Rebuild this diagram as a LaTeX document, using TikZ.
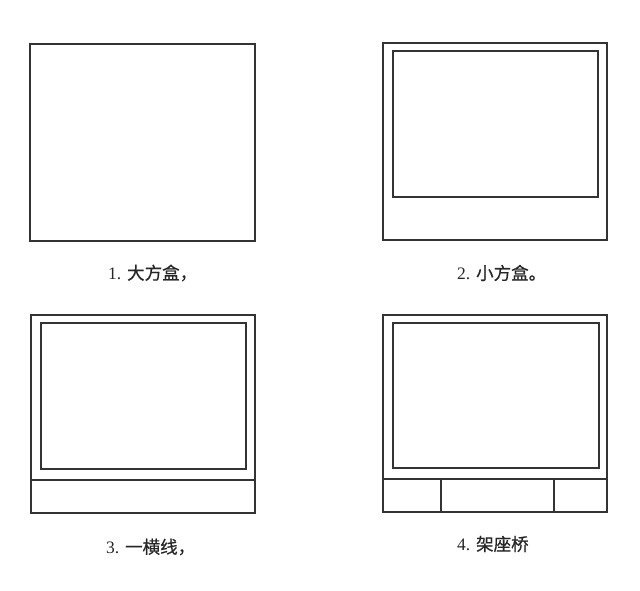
\documentclass[tikz,border=0pt]{standalone}
\usepackage{fontspec}
\setmainfont{Liberation Serif}
\newfontfamily\cjk{Noto Sans CJK SC}[FakeBold=0.6]
\begin{document}
\begin{tikzpicture}[x=1pt,y=-1pt,
  frame/.style={draw=black!80,line width=1.8pt},
  lbl/.style={anchor=west,font=\fontsize{17.5}{19}\selectfont,text=black!85,inner sep=0pt}]
\useasboundingbox (0,0) rectangle (640,591);
% 1
\draw[frame] (30,44) rectangle (255,241);
% 2
\draw[frame] (383,43) rectangle (607,240);
\draw[frame] (393,51) rectangle (598,197);
% 3
\draw[frame] (31,315) rectangle (255,513);
\draw[frame] (41,323) rectangle (246,469);
\draw[frame] (31,480) -- (255,480);
% 4
\draw[frame] (383,315) rectangle (607,512);
\draw[frame] (393,323) rectangle (599,468);
\draw[frame] (383,479) -- (607,479);
\draw[frame] (441,479) -- (441,512);
\draw[frame] (554,479) -- (554,512);
% labels
\node[lbl] (l1) at (108,273) {1. {\cjk 大方盒，}};
\node[lbl] (l2) at (457,273) {2. {\cjk 小方盒。}};
\node[lbl] (l3) at (106,547) {3. {\cjk 一横线，}};
\node[lbl] (l4) at (457,544) {4. {\cjk 架座桥}};
\end{tikzpicture}
\end{document}
